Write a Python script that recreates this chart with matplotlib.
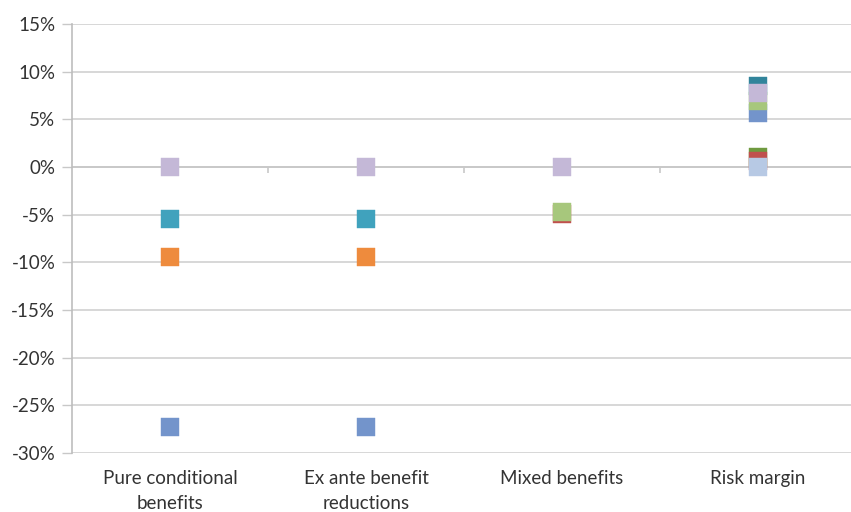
import numpy as np
import matplotlib
matplotlib.use("Agg")
import matplotlib.pyplot as plt
from matplotlib.ticker import FuncFormatter

nan = np.nan

categories = ["Pure conditional\nbenefits", "Ex ante benefit\nreductions",
              "Mixed benefits", "Risk margin"]

# values in %, one list per series (drawn in this order, last on top)
dark_teal = [nan, nan, nan, 8.5]
dark_green = [nan, nan, nan, 1.1]
red = [nan, nan, -4.9, 0.6]
blue = [-27.3, -27.3, nan, 5.7]
green = [nan, nan, -4.7, 6.9]
lavender = [0.0, 0.0, 0.0, 7.8]
light_blue = [nan, nan, nan, 0.0]
orange = [-9.4, -9.4, nan, nan]
teal = [-5.5, -5.5, nan, nan]

series = [
    (dark_teal, "#31849b"),
    (dark_green, "#6f9a3f"),
    (red, "#c0504d"),
    (blue, "#7394cb"),
    (green, "#a7c77c"),
    (lavender, "#c4b8d7"),
    (light_blue, "#b7c9e4"),
    (orange, "#ee8b3d"),
    (teal, "#40a2bd"),
]

plt.rcParams['font.family'] = ['Lato', 'DejaVu Sans']

fig = plt.figure(figsize=(8.51, 5.12), dpi=100)
ax = fig.add_axes([72 / 851, 59 / 512, 779 / 851, 429 / 512])

x = np.arange(len(categories))
for i, (vals, col) in enumerate(series):
    ax.plot(x, vals, linestyle="none", marker="s", markersize=12.4,
            markerfacecolor=col, markeredgecolor=col, markeredgewidth=0.3,
            zorder=3 + i, clip_on=False)

ax.set_ylim(-30, 15)
ax.set_xlim(-0.5, -0.5 + 779 / 196)
ax.set_yticks(np.arange(-30, 16, 5))
ax.yaxis.set_major_formatter(FuncFormatter(lambda v, p: "%d%%" % v))
ax.yaxis.grid(True, color="#d4d4d4", linewidth=1.3)
ax.set_axisbelow(True)

ax.set_xticks(x)
ax.set_xticklabels(categories, fontsize=13.5, color="#333333", linespacing=1.6)
ax.tick_params(axis="x", length=0, pad=12)
ax.tick_params(axis="y", length=7, width=1.0, color="#c8c8c8",
               labelsize=13.5, labelcolor="#333333", pad=5)

for s in ["top", "right", "bottom"]:
    ax.spines[s].set_visible(False)
ax.spines["left"].set_color("#bdbdbd")
ax.spines["left"].set_linewidth(1.2)

# category axis crossing at 0 with tick marks between categories
ax.axhline(0, color="#c8c8c8", linewidth=1.3, zorder=1)
ax.vlines(x[:-1] + 0.5, -0.65, 0, color="#c8c8c8", linewidth=1.2, zorder=1)

fig.savefig("out.png", dpi=100)
